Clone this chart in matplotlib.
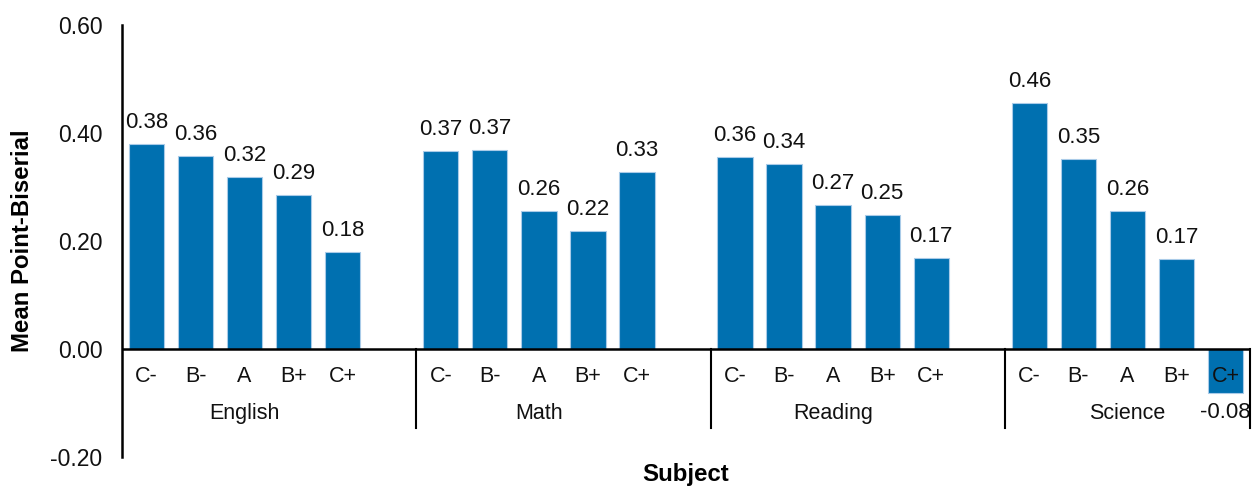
import matplotlib
matplotlib.use("Agg")
import matplotlib.pyplot as plt
import numpy as np

plt.rcParams['font.family'] = ['Liberation Sans', 'DejaVu Sans']

subjects = ["English", "Math", "Reading", "Science"]
grades = ["C-", "B-", "A", "B+", "C+"]
english = [0.380, 0.358, 0.318, 0.286, 0.179]
math_ = [0.367, 0.369, 0.256, 0.219, 0.327]
reading = [0.356, 0.343, 0.266, 0.248, 0.168]
science = [0.455, 0.351, 0.256, 0.166, -0.082]
series = [english, math_, reading, science]

yticks = [-0.20, 0.00, 0.20, 0.40, 0.60]

bar_color = "#0070B0"
edge_color = "#A9CBE8"

fig = plt.figure(figsize=(12.55, 4.86), dpi=100)
ax = fig.add_axes([122 / 1255, 29 / 486, 1128 / 1255, 432 / 486])

slot = 6
for g, vals in enumerate(series):
    xs = [g * slot + i for i in range(len(vals))]
    ax.bar(xs, vals, width=0.72, color=bar_color, edgecolor=edge_color,
           linewidth=0.8, zorder=2)
    for x, v in zip(xs, vals):
        if v >= 0:
            ax.annotate(f"{v:.2f}", (x, v), xytext=(0, 11.5),
                        textcoords="offset points", ha="center",
                        va="baseline", fontsize=16, color="#111111")
        else:
            ax.annotate(f"{v:.2f}", (x, v), xytext=(0, -6),
                        textcoords="offset points", ha="center",
                        va="top", fontsize=16, color="#111111")
    for x, lab in zip(xs, grades):
        ax.text(x, -0.05, lab, ha="center", va="center", fontsize=15.5,
                color="#111111", zorder=3)
    ax.text(g * slot + 2, -0.12, subjects[g], ha="center", va="center",
            fontsize=15.5, color="#111111")

ax.set_xlim(-0.5, 3 * slot + 4.5)
ax.set_ylim(-0.20, 0.60)

ax.axhline(0, color="black", lw=1.8, zorder=3)
for sx in [slot - 0.5, 2 * slot - 0.5, 3 * slot - 0.5, 3 * slot + 4.5]:
    ax.plot([sx, sx], [0, -0.146], color="black", lw=1.5, clip_on=False, zorder=3)

for s in ["top", "right", "bottom"]:
    ax.spines[s].set_visible(False)
ax.spines["left"].set_linewidth(1.8)
ax.set_xticks([])
ax.set_yticks(yticks)
ax.set_yticklabels([f"{t:.2f}" for t in yticks], fontsize=16.5, color="#111111")
ax.tick_params(axis="y", length=0, pad=14)

ax.set_ylabel("Mean Point-Biserial", fontsize=17.3, fontweight="bold", labelpad=12)
fig.text(686 / 1255, 1 - 474 / 486, "Subject", ha="center", va="center",
         fontsize=17.3, fontweight="bold")

fig.savefig("out.png", dpi=100)
